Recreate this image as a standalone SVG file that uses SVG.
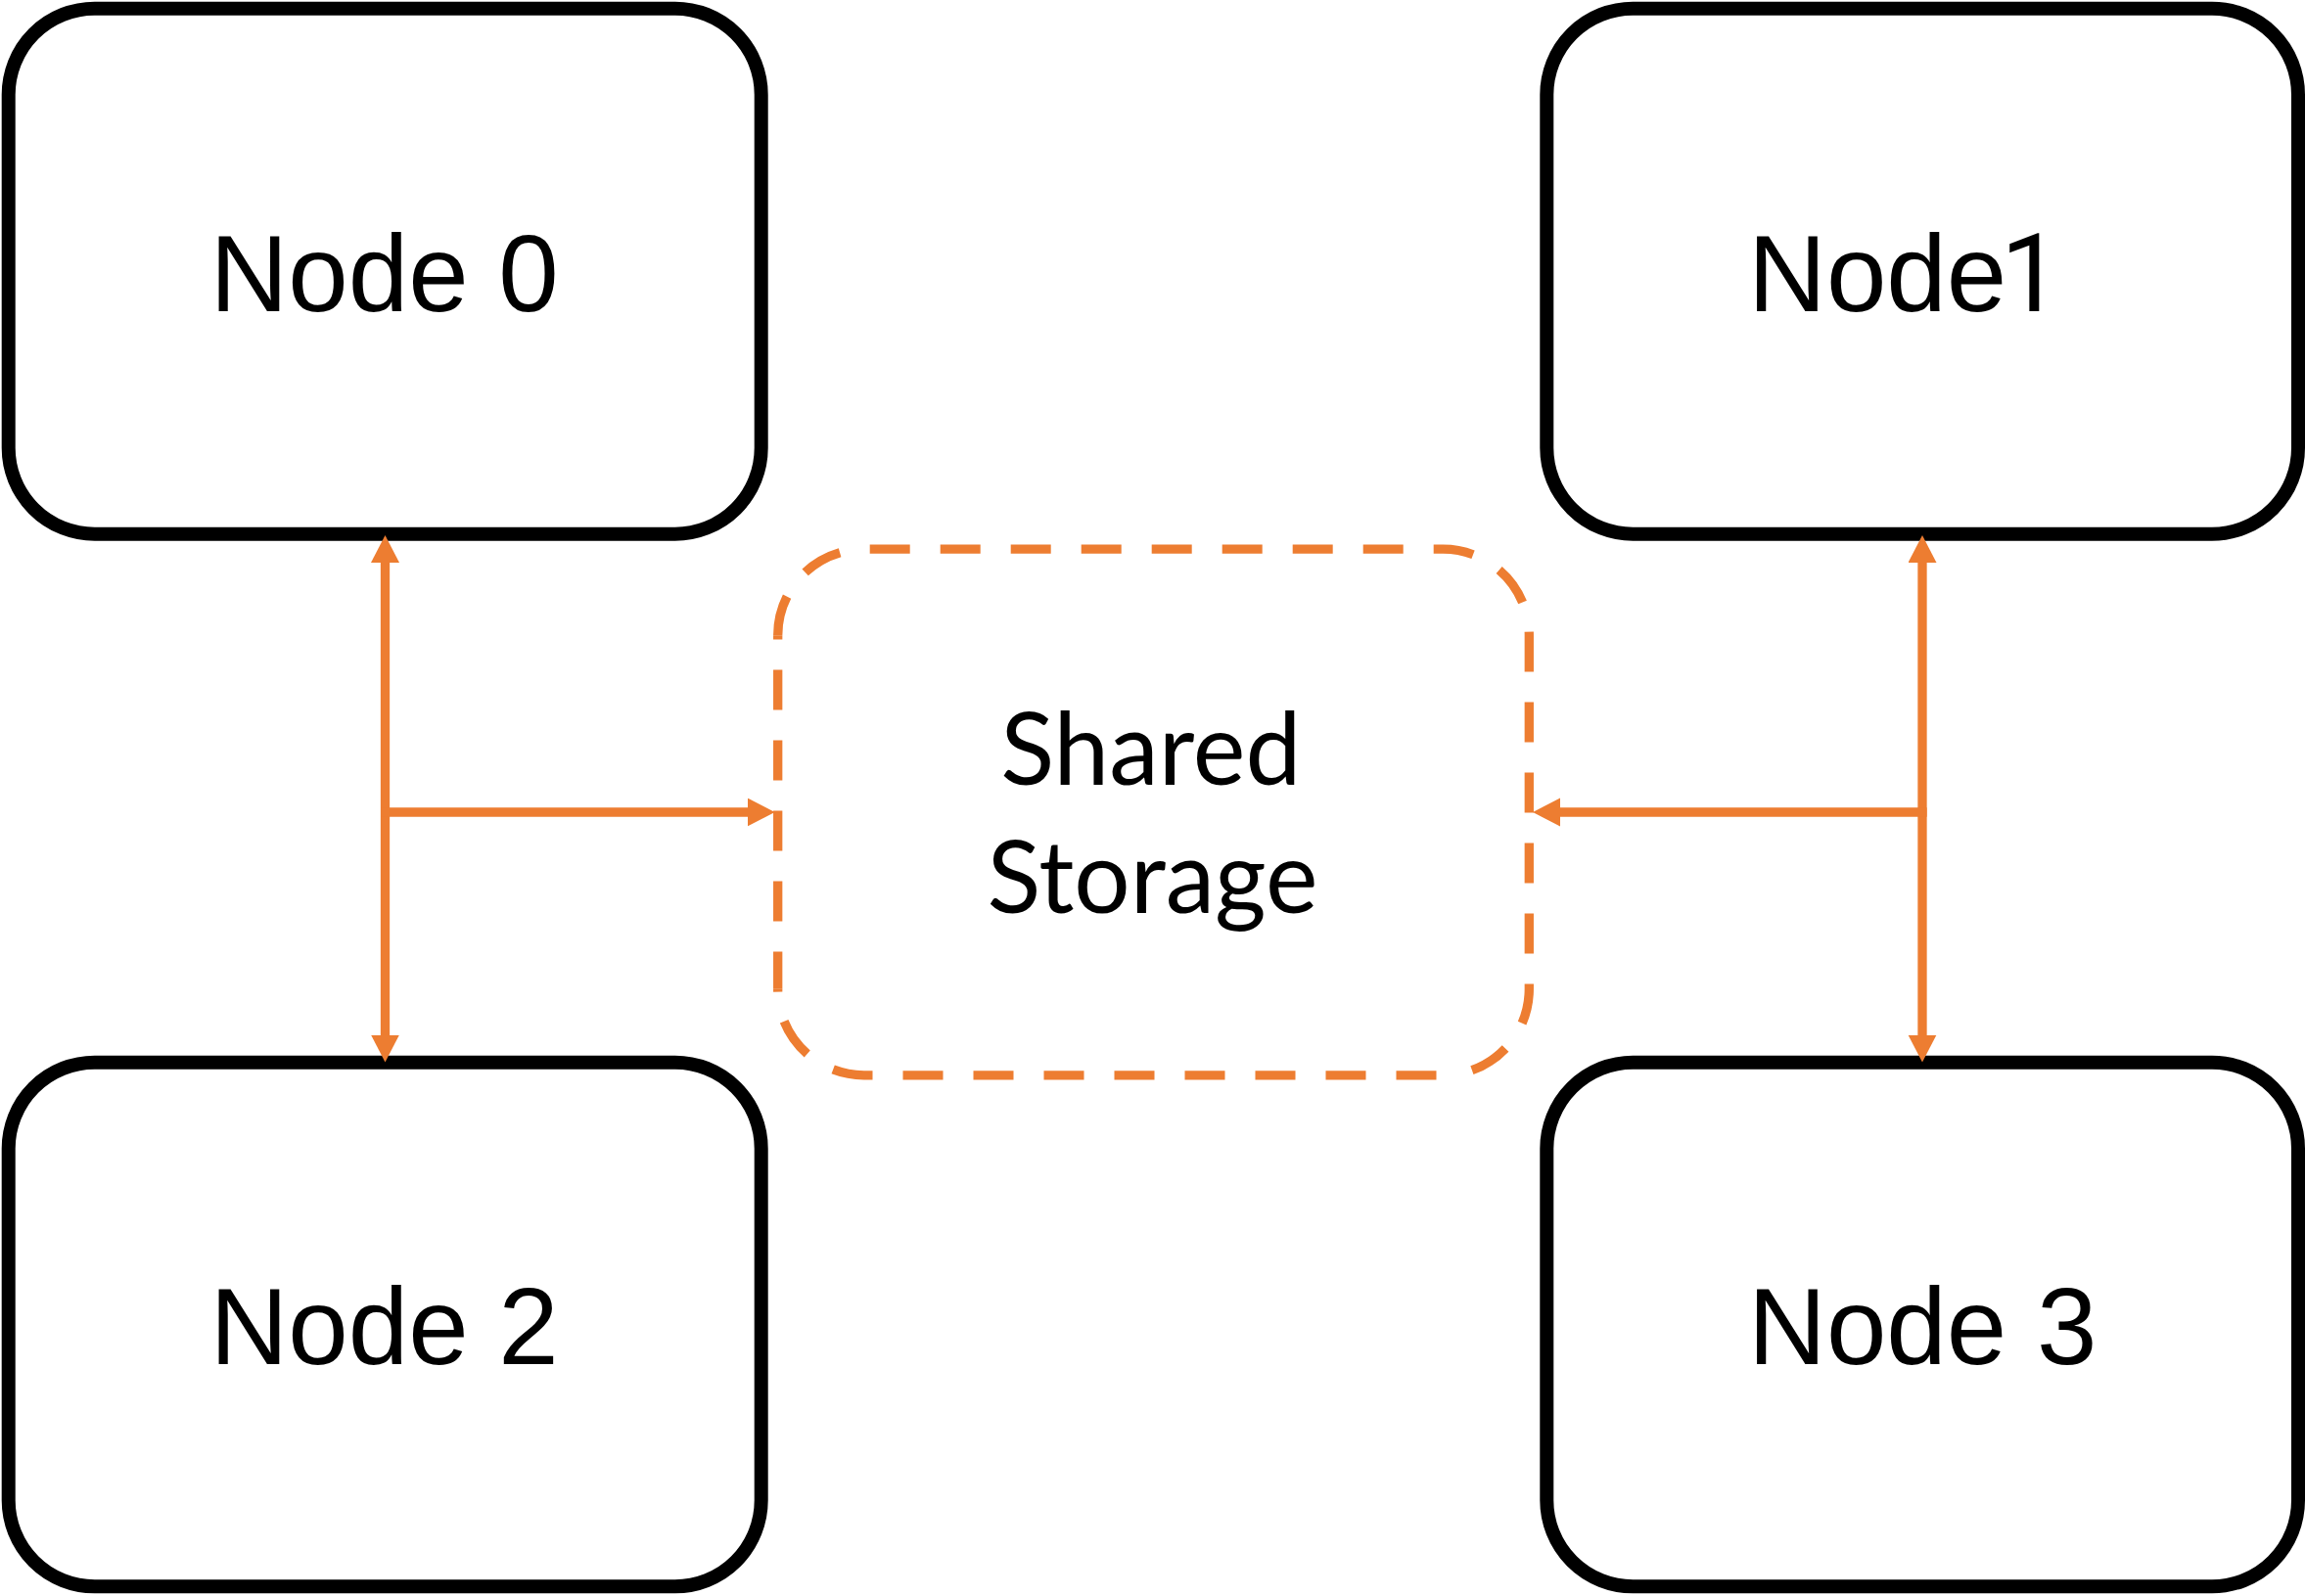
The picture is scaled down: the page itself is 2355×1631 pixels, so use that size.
<svg xmlns="http://www.w3.org/2000/svg" width="2355" height="1631" viewBox="0 0 2355 1631">
  <style>
    .node rect { fill: #ffffff; stroke: #000000; stroke-width: 14; }
    .node text { font-family: "Liberation Sans", Arial, sans-serif; font-size: 110.5px; fill: #000000; }
    .storage path { fill: none; stroke: #ED7D31; stroke-width: 9.3; stroke-dasharray: 41 31; }
    .storage text { font-family: Lato, "Open Sans", sans-serif; font-size: 102px; fill: #000000; text-anchor: middle; }
    .conn { fill: none; stroke: #ED7D31; stroke-width: 9.3; }
  </style>
  <defs>
    <marker id="arrow" markerUnits="userSpaceOnUse" markerWidth="30" markerHeight="30" viewBox="0 0 30 30" refX="8" refY="14.5" orient="auto-start-reverse">
      <path d="M0,0 L28,14.5 L0,29 Z" fill="#ED7D31"/>
    </marker>
  </defs>
  <rect width="2355" height="1631" fill="#ffffff"/>

  <g id="node0" class="node">
    <rect x="8.7" y="8.7" width="769" height="537" rx="88" ry="88"/>
    <text x="214.5" y="318">Node 0</text>
  </g>
  <g id="node1" class="node">
    <rect x="1580.3" y="8.7" width="767.7" height="537" rx="88" ry="88"/>
    <text x="1786.1" y="318" word-spacing="-37">Node <tspan font-family="Roboto, 'Liberation Sans', sans-serif">1</tspan></text>
  </g>
  <g id="node2" class="node">
    <rect x="8.7" y="1085.7" width="769" height="535.6" rx="88" ry="88"/>
    <text x="214.5" y="1394.4">Node 2</text>
  </g>
  <g id="node3" class="node">
    <rect x="1580.3" y="1085.7" width="767.7" height="535.6" rx="88" ry="88"/>
    <text x="1786.1" y="1394.4">Node 3</text>
  </g>

  <g id="shared-storage" class="storage">
    <path d="M794.7,649.2 A88,88 0 0 1 882.7,561.2 L1474.3,561.2 A88,88 0 0 1 1562.3,649.2 L1562.3,1010.8 A88,88 0 0 1 1474.3,1098.8"/>
    <path d="M1474.3,1098.8 L882.7,1098.8 A88,88 0 0 1 794.7,1010.8" stroke-dashoffset="65.2"/>
    <path d="M794.7,1010.8 L794.7,649.2" stroke-dashoffset="2.7"/>
    <text x="1175.8" y="801.7" textLength="307" lengthAdjust="spacingAndGlyphs">Shared</text>
    <text x="1177.5" y="933" textLength="338" lengthAdjust="spacingAndGlyphs">Storage</text>
  </g>

  <g id="connectors">
    <path class="conn" d="M393.5,567 L393.5,1065.5" marker-start="url(#arrow)" marker-end="url(#arrow)"/>
    <path class="conn" d="M389,830 L771.7,830" marker-end="url(#arrow)"/>
    <path class="conn" d="M1964,567 L1964,1065.6" marker-start="url(#arrow)" marker-end="url(#arrow)"/>
    <path class="conn" d="M1968.6,830 L1586,830" marker-end="url(#arrow)"/>
  </g>
</svg>
